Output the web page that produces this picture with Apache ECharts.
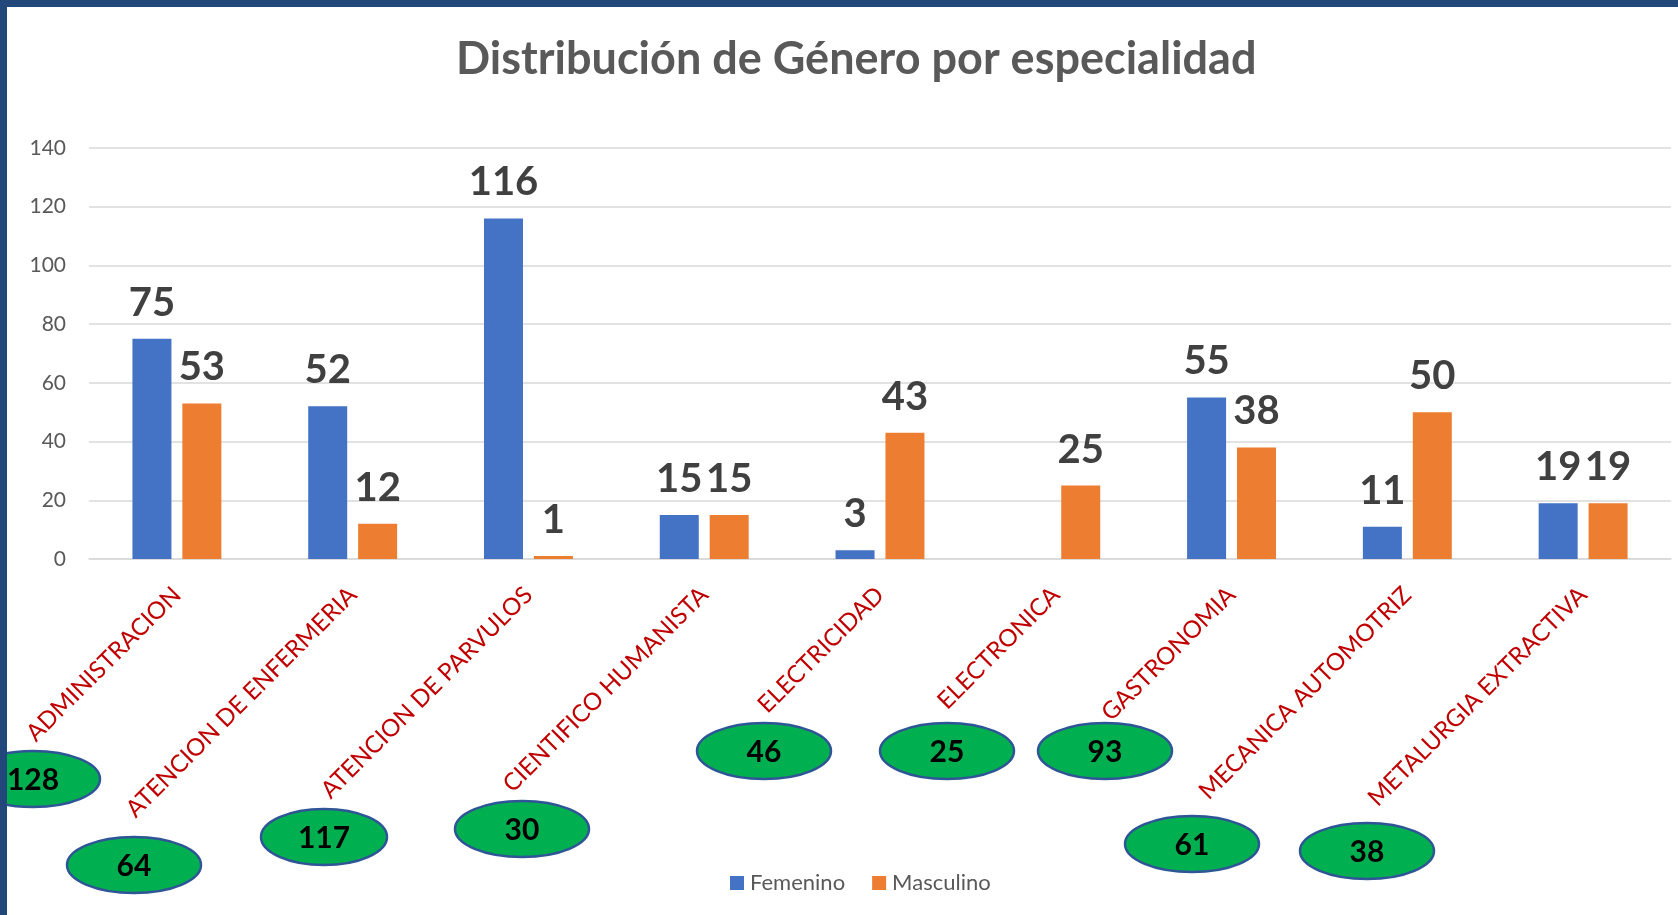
<!DOCTYPE html>
<html lang="es">
<head>
<meta charset="utf-8">
<title>Distribución de Género por especialidad</title>
<script src="https://cdn.jsdelivr.net/npm/echarts@6/dist/echarts.min.js"></script>
<style>
    html, body { margin: 0; padding: 0; background: #fff; }
    #grafico { width: 1678px; height: 915px; }
</style>
</head>
<body>
<div id="grafico"></div>
<script>
// datos del gráfico
const especialidades = ['ADMINISTRACION', 'ATENCION DE ENFERMERIA', 'ATENCION DE PARVULOS', 'CIENTIFICO HUMANISTA',
    'ELECTRICIDAD', 'ELECTRONICA', 'GASTRONOMIA', 'MECANICA AUTOMOTRIZ', 'METALURGIA EXTRACTIVA'];
const femenino = [75, 52, 116, 15, 3, null, 55, 11, 19];
const masculino = [53, 12, 1, 15, 43, 25, 38, 50, 19];
const totales = [128, 64, 117, 30, 46, 25, 93, 61, 38];
const ejeY = { min: 0, max: 140, intervalo: 20 };

// posición de cada óvalo verde (centro x, centro y, ancho)
const ovalos = [
    [33, 779, 134], [134, 865, 134], [324, 837, 126], [522, 829, 134], [764, 751, 134],
    [947, 751, 134], [1105, 751, 134], [1192, 844, 134], [1367, 851, 134]
];

const FUENTE = 'Lato, "Open Sans", sans-serif';

window.addEventListener('load', function() {
    const chart = echarts.init(document.getElementById('grafico'), null, { renderer: 'canvas' });

    // óvalos con el total por especialidad
    function crearOvalos() {
        const elems = [];
        totales.forEach(function(total, i) {
            const o = ovalos[i];
            elems.push({
                type: 'ellipse',
                shape: { cx: o[0], cy: o[1], rx: o[2] / 2, ry: 28 },
                style: { fill: '#00b050', stroke: '#2f5597', lineWidth: 2.5 },
                z: 10
            });
            elems.push({
                type: 'text',
                x: o[0],
                y: o[1] + 1,
                style: {
                    text: String(total),
                    fill: '#000',
                    font: 'bold 30px ' + FUENTE,
                    textAlign: 'center',
                    textVerticalAlign: 'middle'
                },
                z: 11
            });
        });
        // marco azul (arriba e izquierda)
        elems.push({ type: 'rect', shape: { x: 0, y: 0, width: 1678, height: 7 }, style: { fill: '#22477a' }, z: 20 });
        elems.push({ type: 'rect', shape: { x: 0, y: 0, width: 7, height: 915 }, style: { fill: '#22477a' }, z: 20 });
        return elems;
    }

    const etiquetaBarra = {
        show: true,
        position: 'top',
        distance: 16,
        color: '#404040',
        fontFamily: FUENTE,
        fontWeight: 'bold',
        fontSize: 40
    };

    const option = {
        backgroundColor: '#fff',
        animation: false,
        title: {
            text: 'Distribución de Género por especialidad',
            left: 451,
            top: 32,
            textStyle: { color: '#595959', fontFamily: FUENTE, fontWeight: 'bold', fontSize: 45 }
        },
        legend: {
            data: ['Femenino', 'Masculino'],
            left: 725,
            top: 867,
            icon: 'rect',
            itemWidth: 14,
            itemHeight: 14,
            itemGap: 27,
            textStyle: { color: '#595959', fontFamily: FUENTE, fontSize: 22, padding: [0, 0, 0, 1] }
        },
        grid: { left: 89, right: 7, top: 148, bottom: 356, containLabel: false },
        xAxis: {
            type: 'category',
            data: especialidades,
            axisLine: { lineStyle: { color: '#d9d9d9', width: 1.5 } },
            axisTick: { show: false },
            axisLabel: {
                interval: 0,
                rotate: 45,
                margin: 32,
                color: '#c00000',
                fontFamily: FUENTE,
                fontSize: 24
            }
        },
        yAxis: {
            type: 'value',
            min: ejeY.min,
            max: ejeY.max,
            interval: ejeY.intervalo,
            axisLine: { show: false },
            axisTick: { show: false },
            splitLine: { lineStyle: { color: '#d9d9d9', width: 1.5 } },
            axisLabel: { color: '#595959', fontFamily: FUENTE, fontSize: 21, margin: 23 }
        },
        series: [
            {
                name: 'Femenino',
                type: 'bar',
                data: femenino,
                barWidth: 39,
                barGap: '28%',
                itemStyle: { color: '#4472c4' },
                label: etiquetaBarra
            },
            {
                name: 'Masculino',
                type: 'bar',
                data: masculino,
                barWidth: 39,
                barGap: '28%',
                itemStyle: { color: '#ed7d31' },
                label: etiquetaBarra
            }
        ],
        graphic: crearOvalos()
    };

    chart.setOption(option);
});
</script>
</body>
</html>
